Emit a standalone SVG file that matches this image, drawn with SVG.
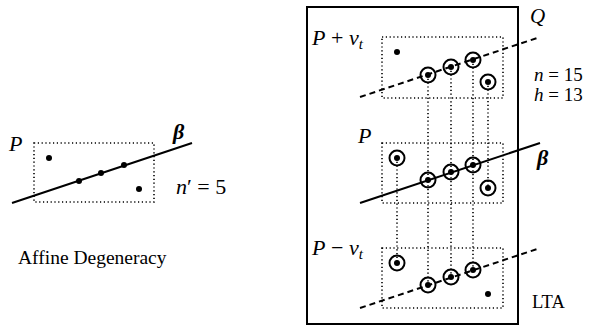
<svg xmlns="http://www.w3.org/2000/svg" width="603" height="327" viewBox="0 0 603 327">
<defs>
<style>
.box{fill:none;stroke:#000;stroke-width:1.6;stroke-dasharray:1.2 2.6}
.vl{fill:none;stroke:#000;stroke-width:1.6;stroke-dasharray:1.2 2.6}
.ln{stroke:#000;stroke-width:2;fill:none}
.dl{stroke:#000;stroke-width:2;fill:none;stroke-dasharray:6 4}
.dot{fill:#000}
.ring{fill:none;stroke:#000;stroke-width:2}
</style>
</defs>
<rect width="603" height="327" fill="#fff"/>
<g id="left" font-family="'Liberation Serif', 'DejaVu Serif', serif" font-size="22" fill="#000">
<rect class="box" x="34" y="143" width="120" height="59"/>
<line class="ln" x1="12" y1="203" x2="192" y2="143"/>
<circle class="dot" cx="49" cy="158" r="3"/>
<circle class="dot" cx="79" cy="181" r="3"/>
<circle class="dot" cx="101" cy="173" r="3"/>
<circle class="dot" cx="124" cy="165" r="3"/>
<circle class="dot" cx="139" cy="189" r="3"/>
<text x="9" y="151" font-style="italic">P</text>
<text x="173" y="139" font-style="italic" font-weight="bold">β</text>
<text x="176" y="194"><tspan font-style="italic">n</tspan>′ = 5</text>
<text x="18" y="264" font-size="19.5">Affine Degeneracy</text>
</g>
<g id="connectors">
<line class="vl" x1="397" y1="158" x2="397" y2="263"/>
<line class="vl" x1="428" y1="75" x2="428" y2="285"/>
<line class="vl" x1="451" y1="67" x2="451" y2="277"/>
<line class="vl" x1="473" y1="60" x2="473" y2="270"/>
<line class="vl" x1="488" y1="82" x2="488" y2="188"/>
</g>
<g id="frame" font-family="'Liberation Serif', 'DejaVu Serif', serif" font-size="21" fill="#000">
<rect x="307" y="7" width="211" height="317" fill="none" stroke="#000" stroke-width="2"/>
<text x="530" y="23" font-style="italic">Q</text>
<text x="534" y="81" font-size="19"><tspan font-style="italic">n</tspan> = 15</text>
<text x="534" y="101" font-size="19"><tspan font-style="italic">h</tspan> = 13</text>
<text x="532" y="308" font-size="18.5">LTA</text>
</g>
<g id="top" font-family="'Liberation Serif', 'DejaVu Serif', serif" font-size="22" fill="#000">
<rect class="box" x="382" y="37" width="121" height="61"/>
<line class="dl" x1="360" y1="97" x2="540" y2="37"/>
<circle class="dot" cx="397" cy="52" r="3"/>
<circle class="dot" cx="428" cy="75" r="3"/><circle class="ring" cx="428" cy="75" r="7.5"/>
<circle class="dot" cx="451" cy="67" r="3"/><circle class="ring" cx="451" cy="67" r="7.5"/>
<circle class="dot" cx="473" cy="60" r="3"/><circle class="ring" cx="473" cy="60" r="7.5"/>
<circle class="dot" cx="488" cy="82" r="3"/><circle class="ring" cx="488" cy="82" r="7.5"/>
<text x="312" y="45"><tspan font-style="italic">P</tspan> + <tspan font-style="italic">v</tspan><tspan font-style="italic" font-size="15" dy="4">t</tspan></text>
</g>
<g id="middle" font-family="'Liberation Serif', 'DejaVu Serif', serif" font-size="22" fill="#000">
<rect class="box" x="382" y="143" width="121" height="60"/>
<line class="ln" x1="360" y1="203" x2="540" y2="143"/>
<circle class="dot" cx="397" cy="158" r="3"/><circle class="ring" cx="397" cy="158" r="7.5"/>
<circle class="dot" cx="428" cy="180" r="3"/><circle class="ring" cx="428" cy="180" r="7.5"/>
<circle class="dot" cx="451" cy="172" r="3"/><circle class="ring" cx="451" cy="172" r="7.5"/>
<circle class="dot" cx="473" cy="165" r="3"/><circle class="ring" cx="473" cy="165" r="7.5"/>
<circle class="dot" cx="488" cy="188" r="3"/><circle class="ring" cx="488" cy="188" r="7.5"/>
<text x="358" y="143" font-style="italic">P</text>
<text x="537" y="165" font-style="italic" font-weight="bold">β</text>
</g>
<g id="bottom" font-family="'Liberation Serif', 'DejaVu Serif', serif" font-size="22" fill="#000">
<rect class="box" x="382" y="248" width="121" height="60"/>
<line class="dl" x1="360" y1="308" x2="540" y2="248"/>
<circle class="dot" cx="397" cy="263" r="3"/><circle class="ring" cx="397" cy="263" r="7.5"/>
<circle class="dot" cx="428" cy="285" r="3"/><circle class="ring" cx="428" cy="285" r="7.5"/>
<circle class="dot" cx="451" cy="277" r="3"/><circle class="ring" cx="451" cy="277" r="7.5"/>
<circle class="dot" cx="473" cy="270" r="3"/><circle class="ring" cx="473" cy="270" r="7.5"/>
<circle class="dot" cx="488" cy="294" r="3"/>
<text x="312" y="255"><tspan font-style="italic">P</tspan> − <tspan font-style="italic">v</tspan><tspan font-style="italic" font-size="15" dy="4">t</tspan></text>
</g>
</svg>
